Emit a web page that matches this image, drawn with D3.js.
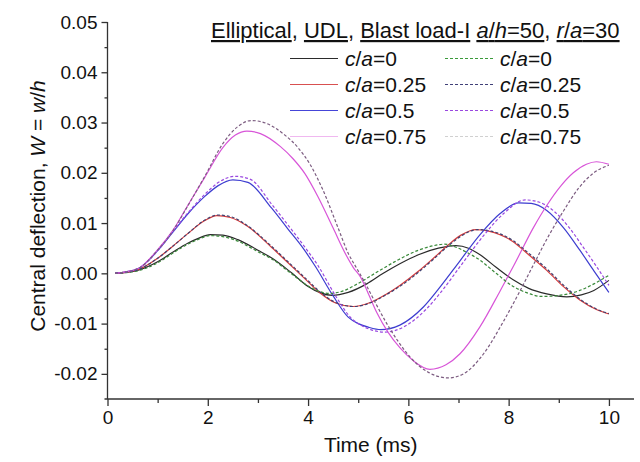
<!DOCTYPE html>
<html>
<head>
<meta charset="utf-8">
<script src="https://cdn.jsdelivr.net/npm/d3@7"></script>
<style>
  body { margin: 0; background: #fff; }
  text { font-family: "Liberation Sans", Arial, sans-serif; fill: #111; }
</style>
</head>
<body>
<script>
// deflection W = w/h against time (ms), pairs [t, W]
var ca0Solid = [[0.15,0],[0.6,0.0006],[1.0,0.0023],[1.3,0.0042],[1.6,0.0060],[1.8,0.0069],[2.05,0.0077],[2.3,0.0076],[2.6,0.0067],[3.0,0.0046],[3.3,0.0029],[3.67,0.0001],[4.0,-0.0026],[4.25,-0.0039],[4.48,-0.0044],[4.8,-0.0038],[5.17,-0.0021],[5.5,0.0000],[5.83,0.0019],[6.2,0.0037],[6.6,0.0050],[6.95,0.0055],[7.2,0.0050],[7.43,0.0037],[7.75,0.0012],[8.09,-0.0013],[8.4,-0.0030],[8.76,-0.0041],[9.16,-0.0047],[9.45,-0.0043],[9.7,-0.0034],[10.0,-0.0014]];
var ca25Solid = [[0.15,0],[0.6,0.0007],[1.0,0.0030],[1.28,0.0052],[1.6,0.0079],[1.94,0.0105],[2.18,0.0115],[2.45,0.0111],[2.8,0.0093],[3.27,0.0052],[3.6,0.0021],[3.94,-0.0011],[4.24,-0.0039],[4.55,-0.0059],[4.9,-0.0066],[5.24,-0.0058],[5.55,-0.0042],[5.83,-0.0024],[6.2,0.0004],[6.5,0.0030],[6.8,0.0057],[7.05,0.0076],[7.35,0.0087],[7.6,0.0084],[8.09,0.0063],[8.4,0.0037],[8.76,0.0006],[9.1,-0.0027],[9.42,-0.0053],[9.75,-0.0072],[10.0,-0.0081]];
var ca50Solid = [[0.15,0],[0.6,0.0009],[1.0,0.0045],[1.28,0.0079],[1.6,0.0118],[1.94,0.0153],[2.2,0.0174],[2.5,0.0186],[2.8,0.0181],[3.27,0.0130],[3.6,0.0088],[3.9,0.0050],[4.15,0.0013],[4.5,-0.0045],[4.8,-0.0087],[5.0,-0.0100],[5.2,-0.0107],[5.45,-0.0112],[5.83,-0.0103],[6.3,-0.0067],[6.65,-0.0025],[7.03,0.0025],[7.43,0.0077],[7.83,0.0119],[8.2,0.0140],[8.45,0.0139],[8.76,0.0125],[9.1,0.0090],[9.42,0.0046],[9.7,0.0005],[10.0,-0.0038]];
var ca75Solid = [[0.15,0],[0.6,0.0009],[1.0,0.0047],[1.3,0.0085],[1.6,0.0135],[1.94,0.0191],[2.3,0.0250],[2.55,0.0275],[2.78,0.0283],[3.05,0.0278],[3.45,0.0252],[3.7,0.0228],[3.94,0.0198],[4.2,0.0152],[4.5,0.0090],[4.75,0.0038],[4.9,0.0012],[5.05,-0.0008],[5.2,-0.0040],[5.37,-0.0078],[5.6,-0.0118],[5.83,-0.0148],[6.1,-0.0174],[6.43,-0.0191],[6.75,-0.0182],[7.03,-0.0160],[7.43,-0.0106],[7.83,-0.0035],[8.1,0.0015],[8.5,0.0092],[8.76,0.0135],[9.05,0.0175],[9.29,0.0200],[9.55,0.0217],[9.75,0.0222],[10.0,0.0217]];

var ca0Dashed = [[0.15,0],[0.6,0.0005],[1.0,0.0021],[1.3,0.0040],[1.6,0.0058],[1.8,0.0067],[2.05,0.0075],[2.3,0.0073],[2.6,0.0064],[3.0,0.0043],[3.3,0.0027],[3.67,-0.0001],[4.0,-0.0025],[4.2,-0.0035],[4.42,-0.0040],[4.7,-0.0035],[5.0,-0.0020],[5.4,0.0004],[5.8,0.0027],[6.2,0.0046],[6.5,0.0055],[6.72,0.0058],[6.95,0.0052],[7.2,0.0040],[7.43,0.0026],[7.75,0.0000],[8.09,-0.0026],[8.4,-0.0040],[8.65,-0.0046],[9.0,-0.0044],[9.42,-0.0034],[9.7,-0.0021],[10.0,-0.0004]];
var ca25Dashed = [[0.15,0],[0.6,0.0007],[1.0,0.0030],[1.28,0.0052],[1.6,0.0079],[1.94,0.0106],[2.2,0.0116],[2.48,0.0112],[2.8,0.0094],[3.27,0.0054],[3.6,0.0023],[3.94,-0.0009],[4.24,-0.0037],[4.55,-0.0058],[4.92,-0.0066],[5.26,-0.0058],[5.55,-0.0043],[5.83,-0.0026],[6.2,0.0002],[6.5,0.0028],[6.8,0.0055],[7.05,0.0074],[7.38,0.0087],[7.65,0.0084],[8.09,0.0065],[8.4,0.0040],[8.76,0.0009],[9.1,-0.0024],[9.42,-0.0051],[9.75,-0.0071],[10.0,-0.0080]];
var ca50Dashed = [[0.15,0],[0.6,0.0009],[1.0,0.0045],[1.28,0.0080],[1.6,0.0120],[1.94,0.0157],[2.2,0.0180],[2.55,0.0193],[2.85,0.0187],[3.27,0.0138],[3.6,0.0096],[3.9,0.0057],[4.2,0.0015],[4.55,-0.0045],[4.85,-0.0088],[5.05,-0.0103],[5.25,-0.0112],[5.53,-0.0117],[5.9,-0.0107],[6.35,-0.0072],[6.7,-0.0031],[7.08,0.0020],[7.5,0.0075],[7.9,0.0119],[8.33,0.0146],[8.6,0.0142],[8.9,0.0124],[9.2,0.0092],[9.5,0.0050],[9.75,0.0014],[10.0,-0.0024]];
var ca75Dashed = [[0.15,0],[0.6,0.0009],[1.0,0.0046],[1.3,0.0084],[1.6,0.0134],[1.94,0.0193],[2.3,0.0258],[2.6,0.0292],[2.87,0.0304],[3.15,0.0299],[3.55,0.0274],[3.8,0.0250],[4.05,0.0215],[4.3,0.0165],[4.6,0.0090],[4.8,0.0040],[4.97,0.0010],[5.13,-0.0018],[5.35,-0.0060],[5.57,-0.0100],[5.8,-0.0136],[6.03,-0.0166],[6.4,-0.0197],[6.8,-0.0208],[7.1,-0.0200],[7.5,-0.0160],[7.9,-0.0095],[8.2,-0.0040],[8.5,0.0018],[8.8,0.0075],[9.1,0.0125],[9.4,0.0170],[9.7,0.0200],[10.0,0.0215]];

var legendLabels = ["0", "0.25", "0.5", "0.75"];
var xMajorTicks = [0, 2, 4, 6, 8, 10];
var xMinorTicks = [1, 3, 5, 7, 9];
var yMajorTicks = [-0.02, -0.01, 0, 0.01, 0.02, 0.03, 0.04, 0.05];
var yMinorTicks = [-0.015, -0.005, 0.005, 0.015, 0.025, 0.035, 0.045];

// styles
var solidSeries = [
  { data: ca0Solid,  color: "#2b2b2b", legendColor: "#2b2b2b" },
  { data: ca25Solid, color: "#d83c3c", legendColor: "#d85050" },
  { data: ca50Solid, color: "#3d3dd0", legendColor: "#4545d8" },
  { data: ca75Solid, color: "#d855d8", legendColor: "#f0b8f0" }
];
var dashedSeries = [
  { data: ca0Dashed,  color: "#3a8a3a", legendColor: "#3a9a3a" },
  { data: ca25Dashed, color: "#404070", legendColor: "#404078" },
  { data: ca50Dashed, color: "#9a48e0", legendColor: "#9a48e0" },
  { data: ca75Dashed, color: "#7c5c80", legendColor: "#d0d0d0" }
];

var W = 640, H = 462;
var svg = d3.select("body").append("svg").attr("width", W).attr("height", H);

var x = d3.scaleLinear().domain([0, 10.5]).range([107.5, 634]);
var y = d3.scaleLinear().domain([-0.025, 0.05]).range([399, 22]);

var axisColor = "#333";

// x axis
var gx = svg.append("g").attr("transform", "translate(0," + y(-0.025) + ")");
gx.append("line").attr("x1", x(0) - 3).attr("x2", x(10.5))
  .attr("stroke", axisColor).attr("stroke-width", 1.3);
gx.append("g").call(d3.axisBottom(x).tickValues(xMajorTicks).tickSize(7).tickSizeOuter(0).tickPadding(5).tickFormat(d3.format("d")))
  .call(function(g) { g.select(".domain").remove(); });
gx.append("g").call(d3.axisBottom(x).tickValues(xMinorTicks).tickSize(4).tickSizeOuter(0).tickFormat(""))
  .call(function(g) { g.select(".domain").remove(); });

// y axis
var gy = svg.append("g").attr("transform", "translate(" + x(0) + ",0)");
gy.append("line").attr("y1", y(0.05)).attr("y2", y(-0.025))
  .attr("stroke", axisColor).attr("stroke-width", 1.3);
gy.append("g").call(d3.axisLeft(y).tickValues(yMajorTicks).tickSize(6).tickSizeOuter(0).tickPadding(4)
    .tickFormat(function(d) { return Math.abs(d) < 1e-9 ? "0.00" : d.toFixed(2); }))
  .call(function(g) { g.select(".domain").remove(); });
gy.append("g").call(d3.axisLeft(y).tickValues(yMinorTicks).tickSize(3).tickSizeOuter(0).tickFormat(""))
  .call(function(g) { g.select(".domain").remove(); });

svg.selectAll(".tick line").attr("stroke", axisColor).attr("stroke-width", 1.3);
svg.selectAll(".tick text").attr("font-size", 19).attr("fill", "#111")
  .style("font-family", "'Liberation Sans', Arial, sans-serif");

// axis titles
svg.append("text").attr("x", (x(0) + x(10.5)) / 2).attr("y", 452)
  .attr("text-anchor", "middle").attr("font-size", 21).text("Time (ms)");

function addRuns(sel, runs) {
  runs.forEach(function(r) {
    var ts = sel.append("tspan").text(r[0]);
    if (r[1]) ts.style("text-decoration", "underline");
    if (r[2]) ts.style("font-style", "italic");
  });
}

var ylab = svg.append("text").attr("transform", "translate(38,206) rotate(-90)")
  .attr("text-anchor", "middle").attr("dy", "0.35em").attr("font-size", 21);
addRuns(ylab, [["Central deflection, "], ["W", 0, 1], [" = "], ["w", 0, 1], ["/"], ["h", 0, 1]]);

// curves
var line = d3.line().x(function(d) { return x(d[0]); }).y(function(d) { return y(d[1]); })
  .curve(d3.curveMonotoneX);

var plot = svg.append("g");
solidSeries.forEach(function(s) {
  plot.append("path").attr("d", line(s.data)).attr("fill", "none")
    .attr("stroke", s.color).attr("stroke-width", 1.2);
});
dashedSeries.forEach(function(s) {
  plot.append("path").attr("d", line(s.data)).attr("fill", "none")
    .attr("stroke", s.color).attr("stroke-width", 1.2).attr("stroke-dasharray", "3,2");
});

// legend
var title = svg.append("text").attr("x", 211).attr("y", 38).attr("font-size", 22);
addRuns(title, [["Elliptical", 1], [", "], ["UDL", 1], [", "], ["Blast load-I", 1], [" "],
  ["a", 1, 1], ["/", 1], ["h", 1, 1], ["=50", 1], [", "], ["r", 1, 1], ["/", 1], ["a", 1, 1], ["=30", 1]]);

var rowY = function(i) { return 58.5 + i * 26; };
legendLabels.forEach(function(lab, i) {
  var yy = rowY(i);
  svg.append("line").attr("x1", 290).attr("x2", 338).attr("y1", yy).attr("y2", yy)
    .attr("stroke", solidSeries[i].legendColor).attr("stroke-width", 1.2);
  var t1 = svg.append("text").attr("x", 345).attr("y", yy).attr("dy", "0.36em").attr("font-size", 21);
  addRuns(t1, [["c", 0, 1], ["/"], ["a", 0, 1], ["=" + lab]]);

  svg.append("line").attr("x1", 445).attr("x2", 493).attr("y1", yy).attr("y2", yy)
    .attr("stroke", dashedSeries[i].legendColor).attr("stroke-width", 1.2).attr("stroke-dasharray", "3,2");
  var t2 = svg.append("text").attr("x", 500).attr("y", yy).attr("dy", "0.36em").attr("font-size", 21);
  addRuns(t2, [["c", 0, 1], ["/"], ["a", 0, 1], ["=" + lab]]);
});
</script>
</body>
</html>
